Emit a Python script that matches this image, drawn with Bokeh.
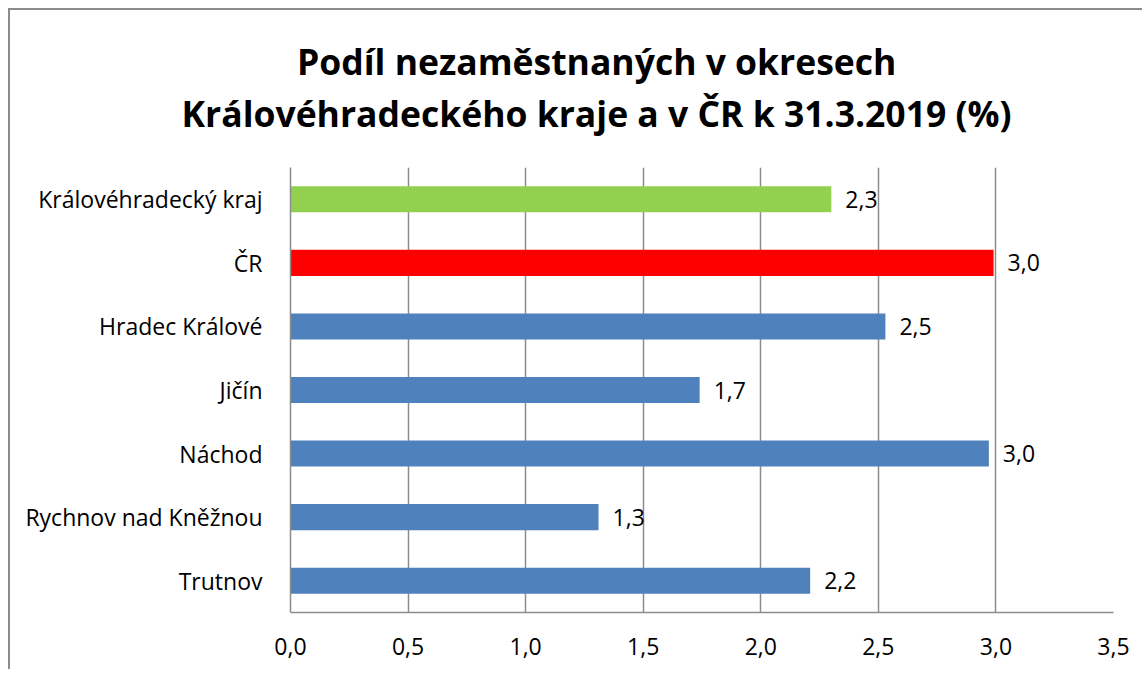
from bokeh.plotting import figure
from bokeh.models import FixedTicker, Range1d, ColumnDataSource, Title
from bokeh.core.properties import value
from bokeh.embed import file_html
from bokeh.resources import INLINE

categories = ["Královéhradecký kraj", "ČR", "Hradec Králové", "Jičín", "Náchod",
              "Rychnov nad Kněžnou", "Trutnov"]
values = [2.30, 2.99, 2.53, 1.74, 2.97, 1.31, 2.21]
colors = ["#92D050", "#FF0000", "#4F81BD", "#4F81BD", "#4F81BD", "#4F81BD", "#4F81BD"]
x_ticks = [0, 0.5, 1.0, 1.5, 2.0, 2.5, 3.0, 3.5]
x_tick_labels = ["0,0", "0,5", "1,0", "1,5", "2,0", "2,5", "3,0", "3,5"]
title_lines = ["Podíl nezaměstnaných v okresech",
               "Královéhradeckého kraje a v ČR k 31.3.2019 (%)"]

FONT = "Open Sans"
n = len(categories)
ypos = [n - 1 - i for i in range(n)]
labels = [f"{v:.1f}".replace(".", ",") for v in values]

src = ColumnDataSource(dict(y=ypos, v=values, c=colors, lab=labels))

p = figure(width=1134, height=661, output_backend="svg", toolbar_location=None,
           x_range=Range1d(0, 3.5), y_range=Range1d(-0.5, n - 0.5),
           min_border_left=280, min_border_right=31, min_border_top=157,
           min_border_bottom=59)
p.styles = {"border-left": "2px solid #8c8c8c", "border-top": "2px solid #8c8c8c",
            "margin-left": "8px", "margin-top": "8px"}
p.outline_line_color = None
p.background_fill_color = "white"
p.border_fill_color = "white"
p.title = None

p.hbar(y="y", right="v", left=0, height=0.41, color="c", line_color=None, source=src)
p.text(x="v", y="y", text="lab", x_offset=14, text_baseline="middle", text_align="left",
       text_font=value(FONT), text_font_size="23px", text_color="black", source=src)

p.xaxis.ticker = FixedTicker(ticks=x_ticks)
p.xaxis.major_label_overrides = {t: l for t, l in zip(x_ticks, x_tick_labels)}
p.yaxis.ticker = FixedTicker(ticks=ypos)
p.yaxis.major_label_overrides = {y: c for y, c in zip(ypos, categories)}

for ax in (p.xaxis[0], p.yaxis[0]):
    ax.axis_line_color = "#8c8c8c"
    ax.axis_line_width = 1.5
    ax.major_tick_line_color = None
    ax.minor_tick_line_color = None
    ax.major_label_text_font = FONT
    ax.major_label_text_font_size = "23px"
    ax.major_label_text_color = "black"
p.xaxis.major_label_standoff = 19
p.yaxis.major_label_standoff = 22

p.xgrid.grid_line_color = "#8c8c8c"
p.xgrid.grid_line_width = 1.5
p.ygrid.grid_line_color = None

# spacer between frame and the two title lines
p.add_layout(Title(text=" ", text_font_size="10px", standoff=18), "above")
# two-line title, inner line added first
for txt, off, sb in zip(reversed(title_lines), [-109, 6.5], [0, 4]):
    p.add_layout(Title(text=txt, align="left", offset=off, text_font=FONT,
                       text_font_style="bold", text_font_size="35.5px",
                       text_color="black", standoff=sb), "above")

open("out.html", "w").write(file_html(p, INLINE))
